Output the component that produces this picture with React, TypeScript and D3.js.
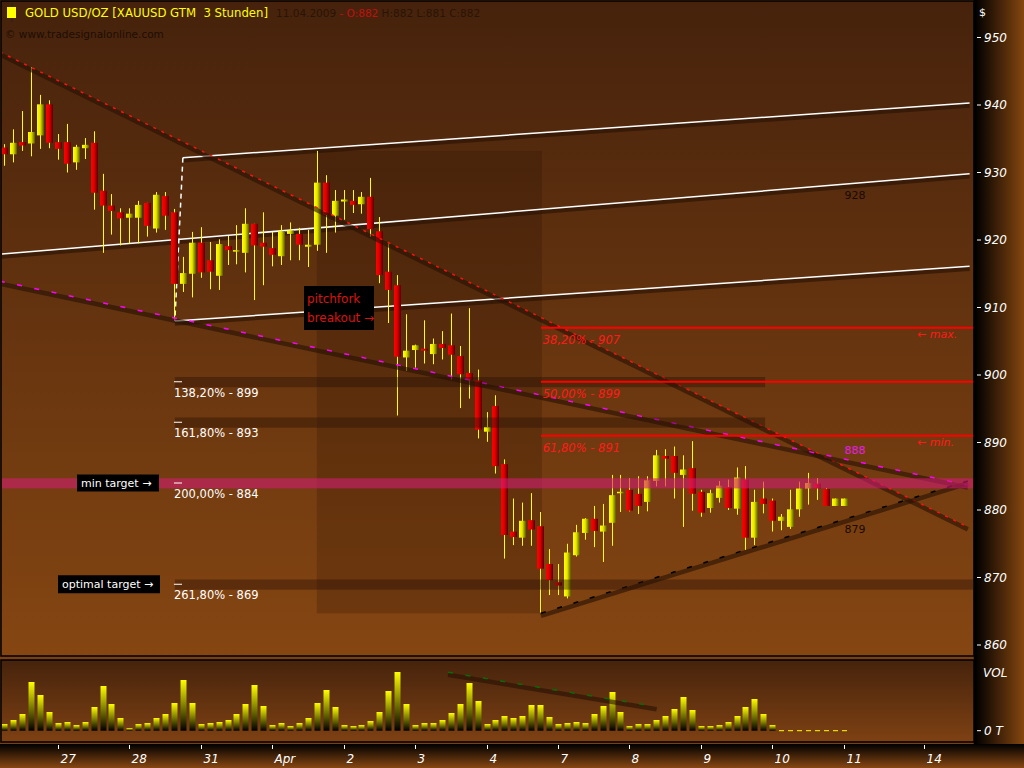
import React from "react";
import * as d3 from "d3";

// ---------- DATA ----------
const opens = [933.7,932.7,934.5,934.3,935.5,940.1,934.5,934.5,931.5,933.6,934.4,927.3,925.1,924.1,923.3,923.3,925.5,921.7,926.5,924.1,913.5,915.0,919.6,917.0,914.7,919.1,918.4,918.1,922.4,919.6,918.8,917.6,920.9,920.9,919.0,919.3,928.5,923.6,925.7,925.8,925.3,926.4,921.3,915.3,913.3,902.6,903.7,903.9,903.1,904.6,904.4,902.8,900.3,899.2,891.6,895.4,886.8,876.8,875.9,878.5,877.6,872.0,869.3,867.2,873.3,876.6,878.7,876.8,878.1,882.6,883.0,882.4,881.2,884.3,888.0,888.0,885.2,886.2,882.7,880.3,881.8,883.4,880.2,884.5,875.9,881.7,881.4,878.4,877.5,880.1,883.2,883.9,883.1,880.6,880.6];
const highs = [934.2,936.4,939.1,945.6,941.5,940.7,935.7,937.2,934.1,935.1,936.1,929.8,926.8,924.7,924.7,925.8,925.5,927.1,927.1,924.6,917.5,921.2,921.9,919.7,920.1,920.6,922.2,924.7,922.4,924.1,921.2,922.2,922.6,921.8,921.5,933.2,929.6,927.4,927.4,927.4,927.1,929.2,923.4,919.5,914.8,909.0,904.5,908.1,905.4,906.5,909.1,904.3,909.9,900.8,894.5,897.0,887.5,881.7,881.1,882.5,879.7,874.2,872.0,875.0,877.8,878.8,880.6,880.9,885.2,885.2,884.7,885.0,885.0,888.9,889.0,889.4,888.1,890.2,883.0,883.0,884.3,884.5,886.3,886.5,883.0,884.2,881.7,879.4,883.0,884.2,885.5,884.7,883.2,881.7,881.7];
const lows = [931.0,931.5,933.2,932.4,933.5,933.6,931.9,930.0,930.4,932.0,924.5,918.1,920.8,919.2,919.5,919.5,920.5,921.1,921.5,908.2,912.3,911.5,914.4,912.7,912.6,916.3,916.4,915.2,911.1,913.3,916.1,916.3,917.0,917.0,916.0,918.4,918.1,921.1,923.0,924.0,923.9,920.5,913.6,907.7,894.0,900.6,901.1,901.7,901.6,902.3,899.3,895.1,896.5,890.6,890.1,885.4,872.8,874.8,874.7,874.7,864.8,867.4,867.4,866.9,873.1,875.6,874.5,872.3,874.7,879.7,879.8,879.4,879.8,883.5,883.5,881.7,877.5,879.9,879.0,879.6,881.1,880.0,879.3,874.1,874.8,879.5,876.8,877.0,877.2,879.0,880.8,881.5,880.6,880.6,880.6];
const closes = [932.7,934.4,934.0,936.0,940.1,934.4,933.5,931.3,933.8,934.1,927.0,925.1,924.3,923.2,923.9,925.2,922.1,926.7,923.6,913.5,915.1,919.6,915.2,915.3,919.4,918.5,918.5,922.4,919.2,919.0,917.8,921.3,921.4,919.3,919.3,928.5,923.7,925.8,926.0,925.2,926.4,921.6,914.8,912.6,902.7,903.6,904.4,903.6,904.6,904.0,903.0,900.1,899.2,891.9,892.3,886.5,876.3,876.0,878.4,877.1,871.3,869.6,868.8,873.7,876.7,878.7,876.9,877.7,882.2,882.7,879.9,880.6,884.4,888.1,887.6,885.5,886.0,882.4,879.6,882.5,883.6,880.3,884.8,875.9,881.2,880.9,878.4,879.0,880.1,883.2,884.0,883.2,880.6,881.7,881.7];
const volumes = [6.7,10.7,16.7,48.7,35.7,18.7,7.7,8.7,5.7,8.7,23.7,44.7,26.7,12.7,2.7,6.7,7.7,12.7,16.7,27.7,50.7,27.7,6.7,7.7,8.7,10.7,16.7,26.7,45.7,24.7,5.7,7.7,4.7,7.7,12.7,27.7,40.7,23.7,5.7,4.7,5.7,9.7,18.7,39.7,58.7,26.7,5.7,7.7,7.7,10.7,17.7,26.7,47.7,29.7,6.7,10.7,14.7,12.7,14.7,25.7,25.7,13.7,6.7,7.7,8.7,7.7,16.7,24.7,38.7,18.7,4.7,6.7,6.7,10.7,14.7,21.7,33.7,20.7,4.7,4.7,5.7,8.7,14.7,23.7,31.7,16.7,5.7,0,0,0,0,0,0,0,0];

const dayTickBars = [6,14,22,30,38,46,54,62,70,78,86,94,103];
const dayTickLabels = ["27","28","31","Apr","2","3","4","7","8","9","10","11","14"];
const priceTicks = [950,940,930,920,910,900,890,880,870,860];

// drawing tool objects (bar index, price)
const redTrend = [[-0.5,947.85],[107.9,877.5]];
const magentaTrend = [[-0.5,913.9],[107.9,883.7]];
const supportTrend = [[60.1,864.7],[107.9,884.3]];
const pitchUpper = [[20.0,932.2],[108.1,940.3]];
const pitchMedian = [[-0.5,917.9],[108.1,929.8]];
const pitchLower = [[19.1,908.0],[108.1,916.1]];
const pitchHandle = [[20.0,932.2],[19.1,908.0]];
const volTrend = [[49.7,58.4],[73.05,24.0]];

const fibBox = { b1: 35, b2: 60.2, hi: 933.2, lo: 864.7 };
const retraceLevels = [907, 899, 891];
const retraceLabels = ["38,20% - 907", "50,00% - 899", "61,80% - 891"];
const extLevels = [899, 893, 884, 869];
const extLabels = ["138,20% - 899", "161,80% - 893", "200,00% - 884", "261,80% - 869"];
const extBandEnds = [85.2, 85.2, 108.6, 108.6];

// ---------- SCALES ----------
const x = d3.scaleLinear().domain([0, 94]).range([4.3, 843.7]);
const y = d3.scaleLinear().domain([860, 950]).range([645, 37.5]);
const yv = d3.scaleLinear().domain([0, 60]).range([730.7, 670.7]);

const FONT = "DejaVu Sans";

function TLine({ pts, color, dash, scaleY = y, width = 1.5 }: any) {
  const x1 = x(pts[0][0]), y1 = scaleY(pts[0][1]), x2 = x(pts[1][0]), y2 = scaleY(pts[1][1]);
  return (
    <g>
      <line x1={x1} y1={y1 + 2.5} x2={x2} y2={y2 + 2.5} stroke="rgba(38,16,4,0.6)" strokeWidth={4.5} />
      <line x1={x1} y1={y1} x2={x2} y2={y2} stroke={color} strokeWidth={width} strokeDasharray={dash} />
    </g>
  );
}

export default function App() {
  const lvlTop = (p: number) => y(p + 0.7);
  const bandH = (p: number) => y(p - 0.8) - y(p + 0.7);
  return (
    <svg width={1024} height={768} style={{ position: "absolute", left: 0, top: 0, display: "block" }} fontFamily={FONT}>
      <defs>
        <linearGradient id="gBg" x1="0" y1="0" x2="0" y2="1">
          <stop offset="0" stopColor="#46220c" />
          <stop offset="1" stopColor="#854612" />
        </linearGradient>
        <linearGradient id="gVolBg" x1="0" y1="0" x2="0" y2="1">
          <stop offset="0" stopColor="#46230c" />
          <stop offset="1" stopColor="#7e4113" />
        </linearGradient>
        <linearGradient id="gRight" x1="0" y1="0" x2="1" y2="0">
          <stop offset="0" stopColor="#000000" />
          <stop offset="1" stopColor="#84460f" />
        </linearGradient>
        <linearGradient id="gBottom" x1="0" y1="0" x2="0" y2="1">
          <stop offset="0" stopColor="#000000" />
          <stop offset="1" stopColor="#874713" />
        </linearGradient>
        <linearGradient id="gUp" x1="0" y1="0" x2="1" y2="0">
          <stop offset="0" stopColor="#ffff00" />
          <stop offset="0.45" stopColor="#e8e800" />
          <stop offset="1" stopColor="#555500" />
        </linearGradient>
        <linearGradient id="gDn" x1="0" y1="0" x2="1" y2="0">
          <stop offset="0" stopColor="#ff0000" />
          <stop offset="0.45" stopColor="#e00000" />
          <stop offset="1" stopColor="#580000" />
        </linearGradient>
        <linearGradient id="gVol" x1="0" y1="0" x2="0" y2="1">
          <stop offset="0" stopColor="#ffff00" />
          <stop offset="1" stopColor="#000000" />
        </linearGradient>
        <clipPath id="cpPrice"><rect x={2} y={2} width={971} height={653} /></clipPath>
        <clipPath id="cpVol"><rect x={2} y={661} width={971} height={80} /></clipPath>
      </defs>

      {/* page */}
      <rect x={0} y={0} width={1024} height={768} fill="#7a3f12" />
      {/* right axis */}
      <rect x={975} y={0} width={49} height={745} fill="url(#gRight)" />
      {/* bottom axis */}
      <rect x={0} y={744} width={1024} height={24} fill="url(#gBottom)" />

      {/* price panel */}
      <rect x={1} y={1} width={973} height={655} fill="url(#gBg)" stroke="#000" strokeWidth={1.5} />
      <g clipPath="url(#cpPrice)">
        {/* fib range box */}
        <rect x={x(fibBox.b1)} y={y(fibBox.hi)} width={x(fibBox.b2) - x(fibBox.b1)} height={y(fibBox.lo) - y(fibBox.hi)} fill="rgba(30,12,2,0.2)" />

        {/* pitchfork */}
        <TLine pts={pitchUpper} color="#ffffff" />
        <TLine pts={pitchMedian} color="#ffffff" />
        <TLine pts={pitchLower} color="#ffffff" />
        <line x1={x(pitchHandle[0][0])} y1={y(pitchHandle[0][1])} x2={x(pitchHandle[1][0])} y2={y(pitchHandle[1][1])} stroke="#ffffff" strokeWidth={1.5} strokeDasharray="5,4" />

        {/* candles */}
        {opens.map((o, i) => {
          const c = closes[i];
          const up = c >= o;
          const top = y(Math.max(o, c));
          const bot = y(Math.min(o, c));
          const h = Math.max(bot - top, 1.5);
          const cx = Math.round(x(i)) + 0.5;
          return (
            <g key={i}>
              <line x1={cx} x2={cx} y1={y(highs[i])} y2={y(lows[i])} stroke="#ffff00" strokeWidth={1} />
              <rect x={cx - 3.5} y={top} width={7} height={h} fill={up ? "url(#gUp)" : "url(#gDn)"} />
            </g>
          );
        })}

        {/* trend lines */}
        <TLine pts={redTrend} color="#ff1010" dash="3,6" />
        <TLine pts={magentaTrend} color="#ff00ff" dash="5,12.6" />
        <TLine pts={supportTrend} color="#000000" dash="5,12" />

        {/* extension bands */}
        {extLevels.map((p, i) =>
          i === 2 ? (
            <rect key={i} x={0} y={lvlTop(p)} width={975} height={bandH(p)} fill="rgba(209,28,111,0.6)" />
          ) : (
            <rect key={i} x={x(19.1)} y={lvlTop(p)} width={x(extBandEnds[i]) - x(19.1)} height={bandH(p)} fill="rgba(40,16,4,0.4)" />
          )
        )}
        {extLevels.map((p, i) => (
          <g key={"el" + i}>
            <line x1={x(19.0)} x2={x(19.9)} y1={y(p)} y2={y(p)} stroke="#ffffff" strokeWidth={1} />
            <text x={x(19.0)} y={y(p) + 15} fill="#ffffff" fontSize={11.5} style={{ whiteSpace: "pre" }}>{extLabels[i]}</text>
          </g>
        ))}

        {/* retracement lines */}
        {retraceLevels.map((p, i) => (
          <g key={"rl" + i}>
            <line x1={x(60.1)} x2={975} y1={y(p)} y2={y(p)} stroke="#ff0000" strokeWidth={2} />
            <text x={x(60.3)} y={y(p) + 16} fill="#ff1a1a" fontSize={11.5} fontStyle="italic" style={{ whiteSpace: "pre" }}>{retraceLabels[i]}</text>
          </g>
        ))}
        <text x={917} y={y(907) + 10} fill="#ff1a1a" fontSize={11} fontStyle="italic">← max.</text>
        <text x={917} y={y(891) + 10} fill="#ff1a1a" fontSize={11} fontStyle="italic">← min.</text>

        {/* level labels */}
        <text x={x(94.1)} y={y(926.1)} fill="#1a0a02" fontSize={11}>928</text>
        <text x={x(94.1)} y={y(876.6)} fill="#1a0a02" fontSize={11}>879</text>
        <text x={x(94.1)} y={y(888.3)} fill="#e81ee8" fontSize={11}>888</text>

        {/* annotation boxes */}
        <rect x={304} y={286} width={70} height={44} fill="#000" />
        <text x={307} y={303} fill="#dd1111" fontSize={12}>pitchfork</text>
        <text x={307} y={322} fill="#dd1111" fontSize={12}>breakout →</text>

        <rect x={77} y={y(884) - 8.5} width={82} height={17} fill="#000" />
        <text x={81} y={y(884) + 4} fill="#ffffff" fontSize={11}>min target →</text>
        <rect x={58} y={y(869) - 9} width={102} height={18} fill="#000" />
        <text x={62} y={y(869) + 4} fill="#ffffff" fontSize={11}>optimal target →</text>
      </g>

      {/* header */}
      <rect x={11.5} y={3} width={1} height={19} fill="#222" />
      <rect x={7} y={7} width={9} height={11} fill="#ffff00" />
      <text x={25} y={17} fill="#ffff00" fontSize={11.7} style={{ whiteSpace: "pre" }}>GOLD USD/OZ [XAUUSD GTM  3 Stunden]</text>
      <text x={276} y={17} fontSize={10.5} style={{ whiteSpace: "pre" }}>
        <tspan fill="#2a1406">11.04.2009 </tspan>
        <tspan fill="#c01010">- O:882</tspan>
        <tspan fill="#2a1406"> H:882 L:881 C:882</tspan>
      </text>
      <text x={5} y={38} fill="#1e0e04" fontSize={10.5}>© www.tradesignalonline.com</text>

      {/* right price axis */}
      <line x1={974.5} x2={974.5} y1={0} y2={744} stroke="#000" strokeWidth={1.5} />
      <text x={979} y={16} fill="#ffffff" fontSize={11}>$</text>
      {priceTicks.map((p) => (
        <g key={p}>
          <line x1={977} x2={981} y1={y(p)} y2={y(p)} stroke="#ffffff" strokeWidth={1} />
          <text x={984} y={y(p) + 4} fill="#ffffff" fontSize={12} fontStyle="italic">{p}</text>
        </g>
      ))}

      {/* volume panel */}
      <rect x={1} y={660} width={973} height={82} fill="url(#gVolBg)" stroke="#000" strokeWidth={1.5} />
      <g clipPath="url(#cpVol)">
        {volumes.map((v, i) => {
          const cx = Math.round(x(i)) + 0.5;
          return v > 0 ? (
            <rect key={i} x={cx - 3} y={yv(v)} width={6} height={yv(0) - yv(v)} fill="url(#gVol)" />
          ) : (
            <line key={i} x1={cx - 2.5} x2={cx + 2.5} y1={yv(0)} y2={yv(0)} stroke="#ffff00" strokeWidth={1} />
          );
        })}
        <TLine pts={volTrend} color="#0a6a0a" dash="5,12.6" scaleY={yv} />
      </g>
      <text x={983} y={677} fill="#ffffff" fontSize={12} fontStyle="italic">VOL</text>
      <line x1={977} x2={981} y1={yv(0)} y2={yv(0)} stroke="#ffffff" strokeWidth={1} />
      <text x={984} y={yv(0) + 4} fill="#ffffff" fontSize={12} fontStyle="italic">0 T</text>

      {/* bottom time axis */}
      {dayTickBars.map((b, i) => {
        const tx = Math.round(x(b)) + 0.5;
        return (
          <g key={i}>
            <line x1={tx} x2={tx} y1={745} y2={749} stroke="#ffffff" strokeWidth={1} />
            <text x={tx + 2} y={763} fill="#ffffff" fontSize={12} fontStyle="italic">{dayTickLabels[i]}</text>
          </g>
        );
      })}
    </svg>
  );
}
